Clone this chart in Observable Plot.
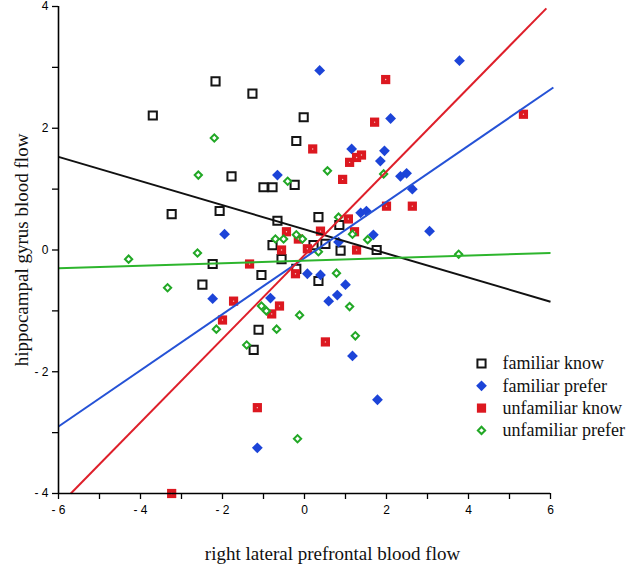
<!DOCTYPE html>
<html>
<head>
<meta charset="utf-8">
<script src="https://cdn.jsdelivr.net/npm/d3@7"></script>
<script src="https://cdn.jsdelivr.net/npm/@observablehq/plot@0.6"></script>
<style>
  html, body { margin: 0; padding: 0; background: #fff; }
  #chart { width: 640px; height: 571px; }
</style>
</head>
<body>
<div id="chart"></div>
<script>
// ---- data ----
const seriesNames = ["familiar know", "familiar prefer", "unfamiliar know", "unfamiliar prefer"];

const familiarKnow = [
  [-3.7, 2.21], [-2.17, 2.77], [-1.27, 2.57], [-0.02, 2.18], [-0.2, 1.79],
  [-1.78, 1.21], [-1.0, 1.03], [-0.78, 1.03], [-0.24, 1.07], [-3.24, 0.59],
  [-2.07, 0.64], [-0.66, 0.48], [-0.78, 0.08], [0.34, 0.54], [0.85, 0.41],
  [0.22, 0.08], [0.51, 0.1], [0.88, -0.01], [1.76, 0.0], [-0.56, -0.15],
  [-2.24, -0.23], [-1.05, -0.41], [-2.49, -0.57], [-0.2, -0.31], [-1.12, -1.31],
  [-1.24, -1.64], [0.34, -0.51]
];

const familiarPrefer = [
  [0.37, 2.95], [3.78, 3.11], [2.1, 2.16], [1.15, 1.66], [1.95, 1.63],
  [1.85, 1.46], [2.34, 1.21], [2.49, 1.26], [2.63, 1.0], [1.37, 0.61],
  [1.51, 0.64], [3.05, 0.31], [1.68, 0.25], [0.83, 0.13], [-0.66, 1.23],
  [-1.95, 0.26], [0.07, -0.39], [0.39, -0.41], [1.0, -0.57], [0.8, -0.74],
  [0.59, -0.84], [1.17, -1.74], [1.78, -2.46], [-2.24, -0.8], [-0.83, -0.79],
  [-1.15, -3.25]
];

const unfamiliarKnow = [
  [1.98, 2.8], [5.34, 2.23], [1.71, 2.1], [0.2, 1.66], [1.1, 1.44],
  [1.27, 1.52], [1.39, 1.56], [0.93, 1.16], [2.0, 0.72], [2.63, 0.72],
  [1.07, 0.51], [0.39, 0.31], [1.22, 0.3], [0.07, 0.02], [1.27, 0.0],
  [-0.15, 0.18], [-0.44, 0.3], [-0.56, 0.0], [-1.34, -0.23], [-0.22, -0.39],
  [-1.73, -0.84], [-2.0, -1.15], [-0.61, -0.92], [-0.8, -1.05], [-1.15, -2.59],
  [-3.24, -4.0], [0.51, -1.51]
];

const unfamiliarPrefer = [
  [-4.29, -0.15], [-3.34, -0.62], [-2.61, -0.05], [-2.59, 1.23], [-2.2, 1.84],
  [-2.15, -1.3], [-1.41, -1.56], [-1.05, -0.92], [-0.93, -1.0], [-0.71, 0.18],
  [-0.51, 0.18], [-0.68, -1.3], [-0.41, 1.13], [-0.2, 0.25], [-0.05, 0.18],
  [-0.12, -1.07], [-0.17, -3.1], [0.34, -0.03], [0.56, 1.3], [0.78, -0.38],
  [0.83, 0.54], [1.1, -0.93], [1.17, 0.26], [1.24, -1.41], [1.54, 0.17],
  [1.93, 1.25], [3.76, -0.07]
];

// fitted lines: [x1, y1, x2, y2]
const fitFamiliarKnow = [-6, 1.53, 6, -0.85];
const fitFamiliarPrefer = [-6, -2.9, 6.07, 2.67];
const fitUnfamiliarKnow = [-5.7, -4.0, 5.9, 3.97];
const fitUnfamiliarPrefer = [-6, -0.3, 6, -0.05];

const xTicks = [-6, -5, -4, -3, -2, -1, 0, 1, 2, 3, 4, 5, 6];
const yTicks = [-4, -3, -2, -1, 0, 1, 2, 3, 4];
const xTitle = "right lateral prefrontal blood flow";
const yTitle = "hippocampal gyrus blood flow";

// ---- build tables ----
const toRows = (arr, s) => arr.map(([x, y]) => ({x, y, s}));
const fits = [
  {s: seriesNames[0], v: fitFamiliarKnow},
  {s: seriesNames[1], v: fitFamiliarPrefer},
  {s: seriesNames[2], v: fitUnfamiliarKnow},
  {s: seriesNames[3], v: fitUnfamiliarPrefer}
].map(d => ({s: d.s, x1: d.v[0], y1: d.v[1], x2: d.v[2], y2: d.v[3]}));

const C = {
  black: "#151515", blue: "#1c44d8", red: "#dc1820", green: "#22a826",
  lblack: "#111111", lblue: "#2552d6", lred: "#de1f2a", lgreen: "#2db52d"
};
const lineColor = {
  [seriesNames[0]]: C.lblack, [seriesNames[1]]: C.lblue,
  [seriesNames[2]]: C.lred, [seriesNames[3]]: C.lgreen
};

const fmt = d => (d % 2 === 0 ? (d < 0 ? "- " + Math.abs(d) : String(d)) : "");
const tickFont = "'Liberation Sans', Arial, sans-serif";
const serif = "'Liberation Serif', 'DejaVu Serif', serif";

// legend placement (pixel offsets from frame top-left)
const legX = 423, legTextX = 444, legY0 = 357, legStep = 22.3;

const symbolStyles = [
  {symbol: "square", fill: "white", stroke: C.black, strokeWidth: 2, r: 4.6, rotate: 0},
  {symbol: "square", fill: C.blue, stroke: "none", r: 4.3, rotate: 45},
  {symbol: "square", fill: C.red, stroke: "none", r: 5.2, rotate: 0},
  {symbol: "square", fill: "white", stroke: C.green, strokeWidth: 2, r: 2.9, rotate: 45}
];
const datasets = [familiarKnow, familiarPrefer, unfamiliarKnow, unfamiliarPrefer];

const marks = [];
// axes
marks.push(Plot.axisX({ticks: xTicks, tickSize: 6, tickPadding: 6, tickFormat: fmt,
  fontSize: 12, fontFamily: tickFont, label: null, stroke: "#000", strokeWidth: 1.3}));
marks.push(Plot.axisY({ticks: yTicks, tickSize: 6, tickPadding: 4, tickFormat: fmt,
  fontSize: 12, fontFamily: tickFont, label: null, stroke: "#000", strokeWidth: 1.3}));

// points
datasets.forEach((arr, i) => {
  const st = symbolStyles[i];
  marks.push(Plot.dot(toRows(arr, seriesNames[i]), {
    x: "x", y: "y", symbol: st.symbol, r: st.r, fill: st.fill, stroke: st.stroke,
    strokeWidth: st.strokeWidth || 0, rotate: st.rotate
  }));
});
// tiny light centres of the red squares (as in the reference)
marks.push(Plot.dot(toRows(unfamiliarKnow, seriesNames[2]), {x: "x", y: "y", r: 0.7, fill: "#f6c8c8"}));

// regression lines
marks.push(Plot.link(fits, {x1: "x1", y1: "y1", x2: "x2", y2: "y2",
  stroke: d => lineColor[d.s], strokeWidth: 2}));

// axis lines
marks.push(Plot.ruleX([-6], {stroke: "#000", strokeWidth: 1.6}));
marks.push(Plot.ruleY([-4], {stroke: "#000", strokeWidth: 1.6}));

// legend
seriesNames.forEach((name, i) => {
  const st = symbolStyles[i];
  marks.push(Plot.dot([name], {frameAnchor: "top-left", dx: legX, dy: legY0 + i * legStep,
    symbol: st.symbol, r: st.r, fill: st.fill, stroke: st.stroke,
    strokeWidth: st.strokeWidth || 0, rotate: st.rotate}));
  marks.push(Plot.text([name], {frameAnchor: "top-left", dx: legTextX, dy: legY0 + i * legStep,
    text: d => d, textAnchor: "start", fontSize: 18, fontFamily: serif, fill: "#111",
    lineAnchor: "middle"}));
});

// axis titles
marks.push(Plot.text([xTitle], {frameAnchor: "bottom", dx: 28, dy: 60, text: d => d,
  textAnchor: "middle", fontSize: 19, fontFamily: serif, fill: "#111", lineAnchor: "middle"}));
marks.push(Plot.text([yTitle], {frameAnchor: "left", dx: -37, dy: 0, text: d => d,
  textAnchor: "middle", rotate: -90, fontSize: 19, fontFamily: serif, fill: "#111",
  lineAnchor: "middle"}));

const chart = Plot.plot({
  width: 640, height: 571,
  marginLeft: 58, marginRight: 90, marginTop: 6, marginBottom: 78,
  x: {domain: [-6, 6]},
  y: {domain: [-4, 4]},
  style: {background: "white", overflow: "visible"},
  marks
});
document.getElementById("chart").appendChild(chart);
</script>
</body>
</html>
